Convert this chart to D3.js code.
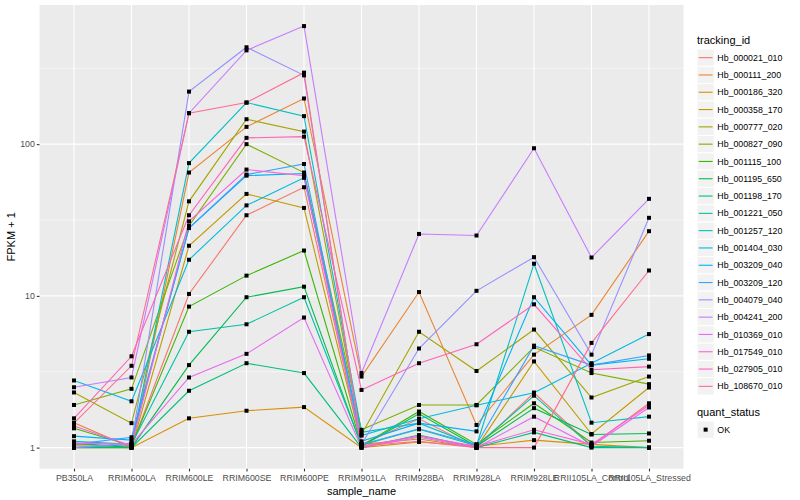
<!DOCTYPE html>
<html>
<head>
<meta charset="utf-8">
<script src="https://cdn.jsdelivr.net/npm/d3@7"></script>
<style>
body { margin: 0; background: #fff; }
text { font-family: "Liberation Sans", Arial, sans-serif; }
</style>
</head>
<body>
<script>
var samples = ["PB350LA", "RRIM600LA", "RRIM600LE", "RRIM600SE", "RRIM600PE", "RRIM901LA",
	"RRIM928BA", "RRIM928LA", "RRIM928LE", "RRII105LA_Control", "RRII105LA_Stressed"];

var ids = ["Hb_000021_010", "Hb_000111_200", "Hb_000186_320", "Hb_000358_170", "Hb_000777_020",
	"Hb_000827_090", "Hb_001115_100", "Hb_001195_650", "Hb_001198_170", "Hb_001221_050",
	"Hb_001257_120", "Hb_001404_030", "Hb_003209_040", "Hb_003209_120", "Hb_004079_040",
	"Hb_004241_200", "Hb_010369_010", "Hb_017549_010", "Hb_027905_010", "Hb_108670_010"];

var colors = ["#F8766D", "#EA8331", "#D89000", "#C09B00", "#A3A500", "#7CAE00", "#39B600", "#00BB4E",
	"#00BF7D", "#00C1A3", "#00BFC4", "#00BAE0", "#00B0F6", "#35A2FF", "#9590FF", "#C77CFF",
	"#E76BF3", "#FA62DB", "#FF62BC", "#FF6C91"];

// FPKM + 1, one row per tracking_id, one value per sample
var fpkm = [
	[1.05, 1.02, 10.3, 34, 52, 1.05, 1.55, 1.0, 2.3, 1.03, 1.96],
	[1.46, 1.0, 65, 130, 200, 2.94, 10.6, 1.41, 4.1, 7.5, 26.7],
	[1.0, 1.0, 1.56, 1.75, 1.85, 1.0, 1.09, 1.02, 1.12, 1.05, 1.0],
	[1.03, 1.0, 21.4, 47, 38, 1.05, 1.14, 1.0, 3.7, 1.23, 2.49],
	[2.31, 1.45, 42, 146, 121, 1.22, 5.8, 3.2, 6.0, 2.14, 2.94],
	[1.91, 2.44, 29, 100, 65, 1.31, 1.91, 1.91, 4.6, 3.1, 2.62],
	[1.34, 1.03, 8.5, 13.6, 19.9, 1.03, 1.73, 1.05, 1.96, 1.08, 1.11],
	[1.07, 1.0, 3.5, 9.8, 11.5, 1.02, 1.67, 1.02, 1.82, 1.22, 1.24],
	[1.0, 1.0, 2.37, 3.6, 3.1, 1.0, 1.21, 1.0, 1.26, 1.0, 1.0],
	[1.1, 1.05, 5.8, 6.5, 9.8, 1.04, 1.32, 1.03, 2.2, 1.02, 1.0],
	[1.0, 1.05, 75, 188, 153, 1.26, 1.45, 1.03, 16.3, 1.46, 1.6],
	[2.77, 2.02, 17.3, 39.5, 60, 1.2, 1.55, 1.9, 2.3, 3.6, 5.6],
	[1.19, 1.12, 28, 62, 64, 1.1, 1.45, 1.28, 9.8, 3.5, 3.85],
	[1.05, 1.17, 28, 63, 74, 1.05, 1.33, 1.05, 4.7, 3.5, 4.05],
	[1.0, 1.07, 222, 435, 284, 1.05, 4.5, 10.8, 18, 4.1, 32.7],
	[2.5, 2.9, 160, 415, 600, 3.1, 25.6, 25, 94, 17.9, 43.6],
	[1.07, 1.05, 2.9, 4.15, 7.2, 1.0, 1.17, 1.0, 1.6, 1.02, 1.84],
	[1.39, 1.03, 31, 68, 62, 1.02, 1.19, 1.02, 1.31, 1.05, 1.9],
	[1.56, 4.0, 34, 110, 112, 2.4, 3.6, 4.8, 8.8, 3.26, 3.42],
	[1.45, 3.46, 160, 188, 296, 1.03, 1.1, 1.0, 1.0, 4.9, 14.7]
];

var yTicks = [1, 10, 100];
var yMinor = [Math.pow(10, 0.5), Math.pow(10, 1.5), Math.pow(10, 2.5)];

var width = 800, height = 500;
var pLeft = 39.5, pRight = 683.5, pTop = 5, pBottom = 468.7;
var ptSize = 4;

var svg = d3.select("body").append("svg")
	.attr("width", width)
	.attr("height", height);

var all = d3.merge(fpkm);
var lo = Math.log10(d3.min(all)), hi = Math.log10(d3.max(all));
var pad = (hi - lo) * 0.05;

var x = d3.scalePoint().domain(samples).range([pLeft, pRight]).padding(0.6);
var y = d3.scaleLog().domain([Math.pow(10, lo - pad), Math.pow(10, hi + pad)]).range([pBottom, pTop]);

// panel
svg.append("rect")
	.attr("x", pLeft).attr("y", pTop)
	.attr("width", pRight - pLeft).attr("height", pBottom - pTop)
	.attr("fill", "#EBEBEB");

svg.selectAll("line.minor").data(yMinor).enter().append("line")
	.attr("class", "minor")
	.attr("x1", pLeft).attr("x2", pRight)
	.attr("y1", function(d) { return y(d); })
	.attr("y2", function(d) { return y(d); })
	.attr("stroke", "#fff").attr("stroke-width", 0.55);

svg.selectAll("line.hmajor").data(yTicks).enter().append("line")
	.attr("class", "hmajor")
	.attr("x1", pLeft).attr("x2", pRight)
	.attr("y1", function(d) { return y(d); })
	.attr("y2", function(d) { return y(d); })
	.attr("stroke", "#fff").attr("stroke-width", 1.1);

svg.selectAll("line.vmajor").data(samples).enter().append("line")
	.attr("class", "vmajor")
	.attr("y1", pTop).attr("y2", pBottom)
	.attr("x1", function(d) { return x(d); })
	.attr("x2", function(d) { return x(d); })
	.attr("stroke", "#fff").attr("stroke-width", 1.1);

// axes
var yAxis = svg.append("g")
	.attr("transform", "translate(" + pLeft + ",0)")
	.call(d3.axisLeft(y).tickValues(yTicks).tickFormat(d3.format("d")).tickSize(2.7).tickPadding(2));
var xAxis = svg.append("g")
	.attr("transform", "translate(0," + pBottom + ")")
	.call(d3.axisBottom(x).tickSize(2.7).tickPadding(3));
[yAxis, xAxis].forEach(function(g) {
	g.select(".domain").remove();
	g.selectAll("line").attr("stroke", "#333").attr("stroke-width", 1.1);
	g.selectAll("text").attr("fill", "#4D4D4D").attr("font-size", "8.8px")
		.attr("font-family", "Liberation Sans, Arial, sans-serif");
});

svg.append("text")
	.attr("x", (pLeft + pRight) / 2).attr("y", 495)
	.attr("text-anchor", "middle").attr("font-size", "11px")
	.text("sample_name");
svg.append("text")
	.attr("transform", "translate(15," + (pTop + pBottom) / 2 + ") rotate(-90)")
	.attr("text-anchor", "middle").attr("font-size", "11px")
	.text("FPKM + 1");

// lines
var line = d3.line()
	.x(function(d, i) { return x(samples[i]); })
	.y(function(d) { return y(d); });

svg.selectAll("path.series").data(fpkm).enter().append("path")
	.attr("class", "series")
	.attr("d", line)
	.attr("fill", "none")
	.attr("stroke", function(d, i) { return colors[i]; })
	.attr("stroke-width", 1.1);

// points
var pts = [];
fpkm.forEach(function(row) {
	row.forEach(function(v, j) { pts.push({ s: samples[j], v: v }); });
});
svg.selectAll("rect.pt").data(pts).enter().append("rect")
	.attr("class", "pt")
	.attr("x", function(d) { return x(d.s) - ptSize / 2; })
	.attr("y", function(d) { return y(d.v) - ptSize / 2; })
	.attr("width", ptSize).attr("height", ptSize)
	.attr("fill", "#000");

// legend
var lg = svg.append("g").attr("transform", "translate(697,0)");
lg.append("text").attr("x", 0).attr("y", 44).attr("font-size", "11px").text("tracking_id");
var key = 17.3, k0 = 49;
var rows = lg.selectAll("g.key").data(ids).enter().append("g")
	.attr("class", "key")
	.attr("transform", function(d, i) { return "translate(0," + (k0 + i * key) + ")"; });
rows.append("rect").attr("width", key).attr("height", key)
	.attr("fill", "#F2F2F2").attr("stroke", "#fff").attr("stroke-width", 1);
rows.append("line").attr("x1", 1.7).attr("x2", key - 1.7)
	.attr("y1", key / 2).attr("y2", key / 2)
	.attr("stroke", function(d, i) { return colors[i]; }).attr("stroke-width", 1.1);
rows.append("text").attr("x", key + 3).attr("y", key / 2 + 3.1)
	.attr("font-size", "8.8px").text(function(d) { return d; });

lg.append("text").attr("x", 0).attr("y", 416).attr("font-size", "11px").text("quant_status");
lg.append("rect").attr("x", 0).attr("y", 421).attr("width", key).attr("height", key)
	.attr("fill", "#F2F2F2").attr("stroke", "#fff");
lg.append("rect").attr("x", key / 2 - ptSize / 2).attr("y", 421 + key / 2 - ptSize / 2)
	.attr("width", ptSize).attr("height", ptSize).attr("fill", "#000");
lg.append("text").attr("x", key + 3).attr("y", 421 + key / 2 + 3.1)
	.attr("font-size", "8.8px").text("OK");
</script>
</body>
</html>
